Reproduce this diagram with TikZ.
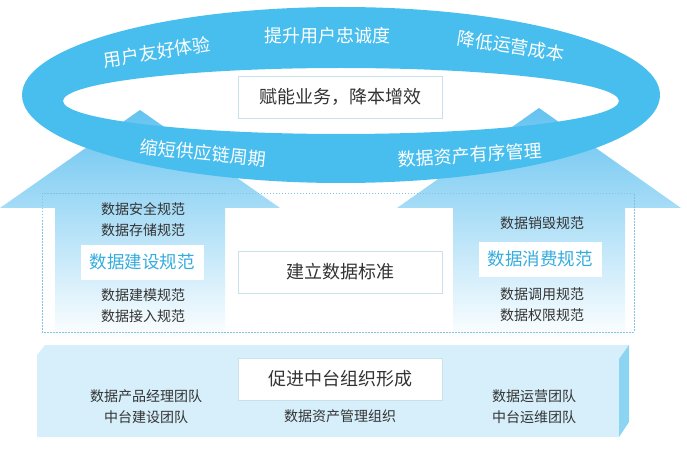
\documentclass[tikz,border=0pt]{standalone}
\usepackage{fontspec}
\setmainfont{Noto Sans CJK SC}
\definecolor{ringblue}{RGB}{72,190,238}
\definecolor{arrowblue}{RGB}{100,194,240}
\definecolor{slabfront}{RGB}{214,239,250}
\definecolor{slabside}{RGB}{140,213,242}
\definecolor{textgray}{RGB}{51,51,51}
\definecolor{specblue}{RGB}{52,172,222}
\definecolor{boxline}{RGB}{200,225,235}
\definecolor{dotline}{RGB}{130,195,225}
\tikzset{
  ringtext/.style={text=white,inner sep=0pt,font=\fontsize{18}{20}\selectfont},
  whitebox/.style={draw=boxline,fill=white,line width=0.8pt,minimum width=204pt,minimum height=42pt,text=textgray,font=\fontsize{18}{20}\selectfont},
  specbox/.style={fill=white,minimum width=123pt,minimum height=35pt,text=specblue,font=\fontsize{17.5}{20}\selectfont},
  itemtext/.style={text=textgray,font=\fontsize{14}{16}\selectfont}
}
\begin{document}
\begin{tikzpicture}[x=1pt,y=-1pt]
\useasboundingbox (0,0) rectangle (687,462);
\def\outerring{(341,95) ellipse [x radius=319pt, y radius=88pt]}
\def\innerring{(341,101) ellipse [x radius=278pt, y radius=33pt]}
        % the two arrows behind the ring
        \shade[top color=arrowblue,bottom color=white] (140,110) -- (280,208) -- (225,208) -- (225,340)
            -- (55,340) -- (55,208) -- (0,208) -- cycle;
        \shade[top color=arrowblue,bottom color=white] (539,108) -- (681,208) -- (625,208) -- (625,340)
            -- (453,340) -- (453,208) -- (397,208) -- cycle;
        \draw[dotline,dash pattern=on 1.5pt off 1.5pt,line width=0.7pt] (42,193) rectangle (634,332);

        % base slab
        \fill[slabfront] (37,355) -- (45,345) -- (629,345) -- (619,359) -- (619,437) -- (37,437) -- cycle;
        \fill[slabside] (619,359) -- (629,345) -- (629,422) -- (619,437) -- cycle;

        \begin{scope}[even odd rule]
        \fill[ringblue] \outerring \innerring;
        \end{scope}

\node[ringtext,rotate=9] (userexp) at (157,52) {用户友好体验};
\node[ringtext] (loyalty) at (327,36) {提升用户忠诚度};
\node[ringtext,rotate=-9] (opcost) at (511,46) {降低运营成本};
\node[ringtext,rotate=-6] (supply) at (203,153) {缩短供应链周期};
\node[ringtext,rotate=4] (assets) at (470,155) {数据资产有序管理};
\node[whitebox] (enable) at (340,97) {赋能业务，降本增效};

\node[itemtext] (security) at (143,209) {数据安全规范};
\node[itemtext] (storage) at (143,230) {数据存储规范};
\node[specbox] (build) at (142,262) {数据建设规范};
\node[itemtext] (model) at (143,295) {数据建模规范};
\node[itemtext] (access) at (143,316) {数据接入规范};
\node[whitebox] (standard) at (340,272) {建立数据标准};
\node[itemtext] (destroy) at (542,223) {数据销毁规范};
\node[specbox] (consume) at (540,259) {数据消费规范};
\node[itemtext] (invoke) at (542,294) {数据调用规范};
\node[itemtext] (permit) at (542,315) {数据权限规范};

\node[whitebox] (org) at (340,379) {促进中台组织形成};
\node[itemtext] (pmteam) at (146,396) {数据产品经理团队};
\node[itemtext] (buildteam) at (146,417) {中台建设团队};
\node[itemtext] (assetorg) at (340,416) {数据资产管理组织};
\node[itemtext] (opteam) at (534,396) {数据运营团队};
\node[itemtext] (maintteam) at (534,417) {中台运维团队};
\end{tikzpicture}
\end{document}
